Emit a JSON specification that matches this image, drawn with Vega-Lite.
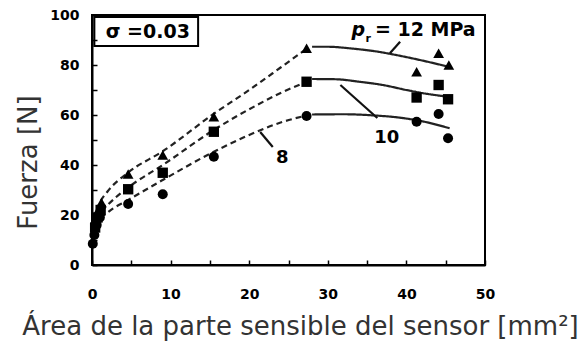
{
  "$schema": "https://vega.github.io/schema/vega-lite/v6.json",
  "autosize": {"type": "none"},
  "padding": {"left": 92, "top": 15, "right": 102, "bottom": 78},
  "width": 393,
  "height": 250,
  "background": "white",
  "config": {"view": {"stroke": "black", "strokeWidth": 2}},
  "datasets": {
    "points": [
      {"a": 27.3, "f": 86.7, "s": "12"}, {"a": 44.1, "f": 84.7, "s": "12"}, {"a": 45.4, "f": 80.0, "s": "12"}, {"a": 41.3, "f": 77.3, "s": "12"}, {"a": 15.5, "f": 59.3, "s": "12"}, {"a": 9.0, "f": 44.0, "s": "12"}, {"a": 4.6, "f": 36.4, "s": "12"}, {"a": 1.2, "f": 25.0, "s": "12"}, {"a": 0.8, "f": 22.0, "s": "12"}, {"a": 0.5, "f": 18.0, "s": "12"},
      {"a": 27.3, "f": 73.3, "s": "10"}, {"a": 44.1, "f": 72.0, "s": "10"}, {"a": 45.3, "f": 66.3, "s": "10"}, {"a": 41.3, "f": 67.0, "s": "10"}, {"a": 15.5, "f": 53.3, "s": "10"}, {"a": 9.0, "f": 36.9, "s": "10"}, {"a": 4.6, "f": 30.3, "s": "10"}, {"a": 1.1, "f": 22.0, "s": "10"}, {"a": 0.7, "f": 19.0, "s": "10"}, {"a": 0.4, "f": 15.0, "s": "10"},
      {"a": 27.3, "f": 59.6, "s": "8"}, {"a": 41.3, "f": 57.3, "s": "8"}, {"a": 44.1, "f": 60.4, "s": "8"}, {"a": 45.3, "f": 50.7, "s": "8"}, {"a": 15.5, "f": 43.3, "s": "8"}, {"a": 9.0, "f": 28.3, "s": "8"}, {"a": 4.6, "f": 24.4, "s": "8"}, {"a": 1.0, "f": 19.0, "s": "8"}, {"a": 0.6, "f": 16.0, "s": "8"}, {"a": 0.3, "f": 12.0, "s": "8"}, {"a": 0.1, "f": 8.5, "s": "8"}
    ],
    "curves": [
      {"id": "12d", "st": "dash", "a": 0.6, "f": 22}, {"id": "12d", "st": "dash", "a": 1, "f": 25}, {"id": "12d", "st": "dash", "a": 2, "f": 29.5}, {"id": "12d", "st": "dash", "a": 4.6, "f": 37}, {"id": "12d", "st": "dash", "a": 9, "f": 45.5}, {"id": "12d", "st": "dash", "a": 15.5, "f": 60.5}, {"id": "12d", "st": "dash", "a": 20, "f": 70}, {"id": "12d", "st": "dash", "a": 24, "f": 79}, {"id": "12d", "st": "dash", "a": 27.3, "f": 86.5},
      {"id": "12s", "st": "solid", "a": 28, "f": 87.3}, {"id": "12s", "st": "solid", "a": 30, "f": 87.3}, {"id": "12s", "st": "solid", "a": 33, "f": 86.6}, {"id": "12s", "st": "solid", "a": 36, "f": 85.5}, {"id": "12s", "st": "solid", "a": 39, "f": 83.8}, {"id": "12s", "st": "solid", "a": 42, "f": 81.8}, {"id": "12s", "st": "solid", "a": 45.5, "f": 79.2},
      {"id": "10d", "st": "dash", "a": 0.6, "f": 18}, {"id": "10d", "st": "dash", "a": 1, "f": 20.5}, {"id": "10d", "st": "dash", "a": 2, "f": 24}, {"id": "10d", "st": "dash", "a": 4.6, "f": 31}, {"id": "10d", "st": "dash", "a": 9, "f": 40}, {"id": "10d", "st": "dash", "a": 15.5, "f": 54}, {"id": "10d", "st": "dash", "a": 21, "f": 64}, {"id": "10d", "st": "dash", "a": 24, "f": 68.8}, {"id": "10d", "st": "dash", "a": 27.3, "f": 73.3},
      {"id": "10s", "st": "solid", "a": 28, "f": 74.4}, {"id": "10s", "st": "solid", "a": 31, "f": 74.3}, {"id": "10s", "st": "solid", "a": 34, "f": 73.3}, {"id": "10s", "st": "solid", "a": 37, "f": 72}, {"id": "10s", "st": "solid", "a": 40, "f": 70}, {"id": "10s", "st": "solid", "a": 42, "f": 68.8}, {"id": "10s", "st": "solid", "a": 45.5, "f": 67.2},
      {"id": "8d", "st": "dash", "a": 0.6, "f": 15}, {"id": "8d", "st": "dash", "a": 1, "f": 18}, {"id": "8d", "st": "dash", "a": 2, "f": 21}, {"id": "8d", "st": "dash", "a": 4.6, "f": 26}, {"id": "8d", "st": "dash", "a": 9, "f": 34}, {"id": "8d", "st": "dash", "a": 15.5, "f": 45.3}, {"id": "8d", "st": "dash", "a": 20, "f": 52}, {"id": "8d", "st": "dash", "a": 24, "f": 57}, {"id": "8d", "st": "dash", "a": 27.3, "f": 59.8},
      {"id": "8s", "st": "solid", "a": 28, "f": 60.2}, {"id": "8s", "st": "solid", "a": 32, "f": 60.3}, {"id": "8s", "st": "solid", "a": 36, "f": 59.8}, {"id": "8s", "st": "solid", "a": 39, "f": 59}, {"id": "8s", "st": "solid", "a": 42, "f": 57.5}, {"id": "8s", "st": "solid", "a": 45.5, "f": 54.7}
    ],
    "leaders": [
      {"a": 21.4, "f": 53.2, "a2": 23.0, "f2": 47.2},
      {"a": 31.6, "f": 72.0, "a2": 36.3, "f2": 58.8},
      {"a": 39.2, "f": 89.3, "a2": 37.9, "f2": 84.7}
    ],
    "box": [{"a": 0.3, "f": 87.6, "a2": 13.5, "f2": 99.2}],
    "ctr": [
      {"a": 7.1, "f": 93.2, "t": "σ =0.03"}
    ],
    "nums": [
      {"a": 37.5, "f": 50.8, "t": "10"},
      {"a": 24.2, "f": 42.8, "t": "8"}
    ],
    "mpa": [{"a": 36.0, "f": 94.0, "t": "= 12 MPa"}],
    "pl": [{"a": 33.0, "f": 94.0, "t": "p"}],
    "rl": [{"a": 34.8, "f": 90.4, "t": "r"}]
  },
  "encoding": {
    "x": {
      "field": "a", "type": "quantitative",
      "scale": {"domain": [0, 50], "nice": false, "zero": false},
      "axis": {
        "values": [0, 5, 10, 15, 20, 25, 30, 35, 40, 45, 50],
        "labelExpr": "datum.value % 10 === 0 ? datum.label : ''",
        "grid": false, "tickSize": -5, "tickColor": "black", "tickWidth": 1.5,
        "domainColor": "black", "domainWidth": 2,
        "labelFlush": false, "labelOverlap": false,
        "labelFont": "DejaVu Sans", "labelFontWeight": "bold", "labelFontSize": 14, "labelColor": "black",
        "labelPadding": 27,
        "title": "Área de la parte sensible del sensor [mm²]",
        "titleFont": "DejaVu Sans", "titleFontSize": 26, "titleFontWeight": "normal", "titleColor": "#333",
        "titleX": 208, "titleY": 69, "titleBaseline": "alphabetic"
      }
    },
    "y": {
      "field": "f", "type": "quantitative",
      "scale": {"domain": [0, 100], "nice": false, "zero": false},
      "axis": {
        "values": [0, 10, 20, 30, 40, 50, 60, 70, 80, 90, 100],
        "labelExpr": "datum.value % 20 === 0 ? datum.label : ''",
        "grid": false, "tickSize": -5, "tickColor": "black", "tickWidth": 1.5,
        "domainColor": "black", "domainWidth": 2,
        "labelFlush": false, "labelOverlap": false,
        "labelFont": "DejaVu Sans", "labelFontWeight": "bold", "labelFontSize": 14, "labelColor": "black",
        "labelPadding": 18,
        "title": "Fuerza [N]",
        "titleFont": "DejaVu Sans", "titleFontSize": 26, "titleFontWeight": "normal", "titleColor": "#333",
        "titleX": -64, "titleY": 147, "titleBaseline": "middle"
      }
    }
  },
  "layer": [
    {
      "data": {"name": "curves"},
      "mark": {"type": "line", "interpolate": "monotone", "color": "#222", "strokeWidth": 2.2},
      "encoding": {
        "detail": {"field": "id"},
        "strokeDash": {"field": "st", "type": "nominal", "scale": {"domain": ["dash", "solid"], "range": [[6, 4], [1, 0]]}, "legend": null}
      }
    },
    {
      "data": {"name": "leaders"},
      "mark": {"type": "rule", "color": "#111", "strokeWidth": 2.2},
      "encoding": {"x2": {"field": "a2"}, "y2": {"field": "f2"}}
    },
    {
      "data": {"name": "box"},
      "mark": {"type": "rect", "fill": null, "stroke": "black", "strokeWidth": 2},
      "encoding": {"x2": {"field": "a2"}, "y2": {"field": "f2"}}
    },
    {
      "data": {"name": "points"},
      "mark": {"type": "point", "filled": true, "color": "black", "opacity": 1},
      "encoding": {
        "shape": {"field": "s", "type": "nominal", "scale": {"domain": ["12", "10", "8"], "range": ["triangle-up", "square", "circle"]}, "legend": null},
        "size": {"field": "s", "type": "nominal", "scale": {"domain": ["12", "10", "8"], "range": [115, 100, 95]}, "legend": null}
      }
    },
    {
      "data": {"name": "ctr"},
      "mark": {"type": "text", "font": "DejaVu Sans", "fontWeight": "bold", "fontSize": 19, "color": "black", "baseline": "middle", "align": "center"},
      "encoding": {"text": {"field": "t"}}
    },
    {
      "data": {"name": "nums"},
      "mark": {"type": "text", "font": "DejaVu Sans", "fontWeight": "bold", "fontSize": 18, "color": "black", "baseline": "middle", "align": "center"},
      "encoding": {"text": {"field": "t"}}
    },
    {
      "data": {"name": "mpa"},
      "mark": {"type": "text", "font": "DejaVu Sans", "fontWeight": "bold", "fontSize": 19, "color": "black", "baseline": "middle", "align": "left"},
      "encoding": {"text": {"field": "t"}}
    },
    {
      "data": {"name": "pl"},
      "mark": {"type": "text", "font": "DejaVu Sans", "fontWeight": "bold", "fontStyle": "italic", "fontSize": 19, "color": "black", "baseline": "middle", "align": "left"},
      "encoding": {"text": {"field": "t"}}
    },
    {
      "data": {"name": "rl"},
      "mark": {"type": "text", "font": "DejaVu Sans", "fontWeight": "bold", "fontSize": 11, "color": "black", "baseline": "middle", "align": "left"},
      "encoding": {"text": {"field": "t"}}
    }
  ]
}
